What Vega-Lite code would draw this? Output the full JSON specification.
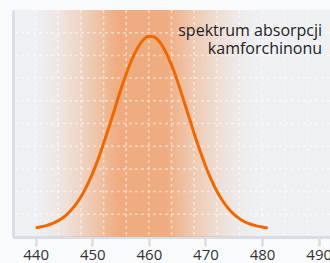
{
  "$schema": "https://vega.github.io/schema/vega-lite/v6.json",
  "width": 317,
  "height": 227,
  "autosize": {"type": "none"},
  "padding": {"left": 13, "top": 10, "right": 0, "bottom": 26},
  "background": "#f9fafb",
  "config": {
    "view": {"fill": "#eef0f4", "stroke": null},
    "font": "Open Sans"
  },
  "datasets": {
    "curve": [
      {"nm": 440, "a": 0.41}, {"nm": 441, "a": 0.45}, {"nm": 442, "a": 0.51}, {"nm": 443, "a": 0.6},
      {"nm": 444, "a": 0.72}, {"nm": 445, "a": 0.88}, {"nm": 446, "a": 1.11}, {"nm": 447, "a": 1.4},
      {"nm": 448, "a": 1.77}, {"nm": 449, "a": 2.23}, {"nm": 450, "a": 2.77}, {"nm": 451, "a": 3.4},
      {"nm": 452, "a": 4.12}, {"nm": 453, "a": 4.87}, {"nm": 454, "a": 5.66}, {"nm": 455, "a": 6.45},
      {"nm": 456, "a": 7.18}, {"nm": 457, "a": 7.82}, {"nm": 458, "a": 8.33}, {"nm": 459, "a": 8.68},
      {"nm": 460, "a": 8.84}, {"nm": 461, "a": 8.8}, {"nm": 462, "a": 8.56}, {"nm": 463, "a": 8.14},
      {"nm": 464, "a": 7.58}, {"nm": 465, "a": 6.9}, {"nm": 466, "a": 6.14}, {"nm": 467, "a": 5.35},
      {"nm": 468, "a": 4.56}, {"nm": 469, "a": 3.82}, {"nm": 470, "a": 3.14}, {"nm": 471, "a": 2.54},
      {"nm": 472, "a": 2.03}, {"nm": 473, "a": 1.61}, {"nm": 474, "a": 1.27}, {"nm": 475, "a": 1.01},
      {"nm": 476, "a": 0.81}, {"nm": 477, "a": 0.66}, {"nm": 478, "a": 0.56}, {"nm": 479, "a": 0.49},
      {"nm": 480, "a": 0.44}, {"nm": 481, "a": 0.4}
    ],
    "band": [{"from": 440, "to": 479, "lo": 0, "hi": 10}],
    "vgrid": [
      {"nm": 440}, {"nm": 444}, {"nm": 448}, {"nm": 452}, {"nm": 456}, {"nm": 460}, {"nm": 464},
      {"nm": 468}, {"nm": 472}, {"nm": 476}, {"nm": 480}, {"nm": 484}, {"nm": 488}
    ],
    "hgrid": [
      {"a": 1}, {"a": 2}, {"a": 3}, {"a": 4}, {"a": 5}, {"a": 6}, {"a": 7}, {"a": 8}, {"a": 9}
    ],
    "labels": [
      {"nm": 490.6, "a": 8.85, "t": "spektrum absorpcji\nkamforchinonu"}
    ]
  },
  "layer": [
    {
      "data": {"name": "band"},
      "mark": {
        "type": "rect",
        "color": {
          "gradient": "linear", "x1": 0, "x2": 1, "y1": 0, "y2": 0,
          "stops": [
            {"offset": 0, "color": "rgba(239,172,128,0)"},
            {"offset": 0.1, "color": "rgba(239,172,128,0.14)"},
            {"offset": 0.2, "color": "rgba(239,172,128,0.4)"},
            {"offset": 0.3, "color": "rgba(239,172,128,0.73)"},
            {"offset": 0.37, "color": "rgba(239,172,128,1)"},
            {"offset": 0.59, "color": "rgba(239,172,128,1)"},
            {"offset": 0.7, "color": "rgba(239,172,128,0.62)"},
            {"offset": 0.8, "color": "rgba(239,172,128,0.34)"},
            {"offset": 0.9, "color": "rgba(239,172,128,0.12)"},
            {"offset": 1, "color": "rgba(239,172,128,0)"}
          ]
        }
      },
      "encoding": {
        "x": {"field": "from", "type": "quantitative", "scale": {"domain": [436, 492], "nice": false, "zero": false},
          "axis": {
            "values": [440, 450, 460, 470, 480, 490], "title": null, "grid": false,
            "domainColor": "#d9dee6", "domainWidth": 3,
            "tickColor": "#d9dee6", "tickWidth": 2.5, "tickSize": 9,
            "labelFontSize": 15, "labelColor": "#333333", "labelPadding": 1, "labelFont": "Open Sans"
          }},
        "x2": {"field": "to"},
        "y": {"field": "lo", "type": "quantitative", "scale": {"domain": [0, 10], "nice": false},
          "axis": {
            "title": null, "labels": false, "ticks": false, "grid": false,
            "domainColor": "#d9dee6", "domainWidth": 3
          }},
        "y2": {"field": "hi"}
      }
    },
    {
      "data": {"name": "vgrid"},
      "mark": {"type": "rule", "color": "#ffffff", "opacity": 0.5, "strokeWidth": 1.5, "strokeDash": [3, 3]},
      "encoding": {
        "x": {"field": "nm", "type": "quantitative"}
      }
    },
    {
      "data": {"name": "hgrid"},
      "mark": {"type": "rule", "color": "#ffffff", "opacity": 0.5, "strokeWidth": 1.5, "strokeDash": [3, 3]},
      "encoding": {
        "y": {"field": "a", "type": "quantitative"}
      }
    },
    {
      "data": {"name": "curve"},
      "mark": {"type": "line", "color": "#f06800", "strokeWidth": 3, "interpolate": "monotone"},
      "encoding": {
        "x": {"field": "nm", "type": "quantitative"},
        "y": {"field": "a", "type": "quantitative"}
      }
    },
    {
      "data": {"name": "labels"},
      "mark": {"type": "text", "align": "right", "baseline": "alphabetic", "fontSize": 16, "lineBreak": "\n", "lineHeight": 18, "color": "#222222", "font": "Open Sans"},
      "encoding": {
        "x": {"field": "nm", "type": "quantitative"},
        "y": {"field": "a", "type": "quantitative"},
        "text": {"field": "t"}
      }
    }
  ]
}
